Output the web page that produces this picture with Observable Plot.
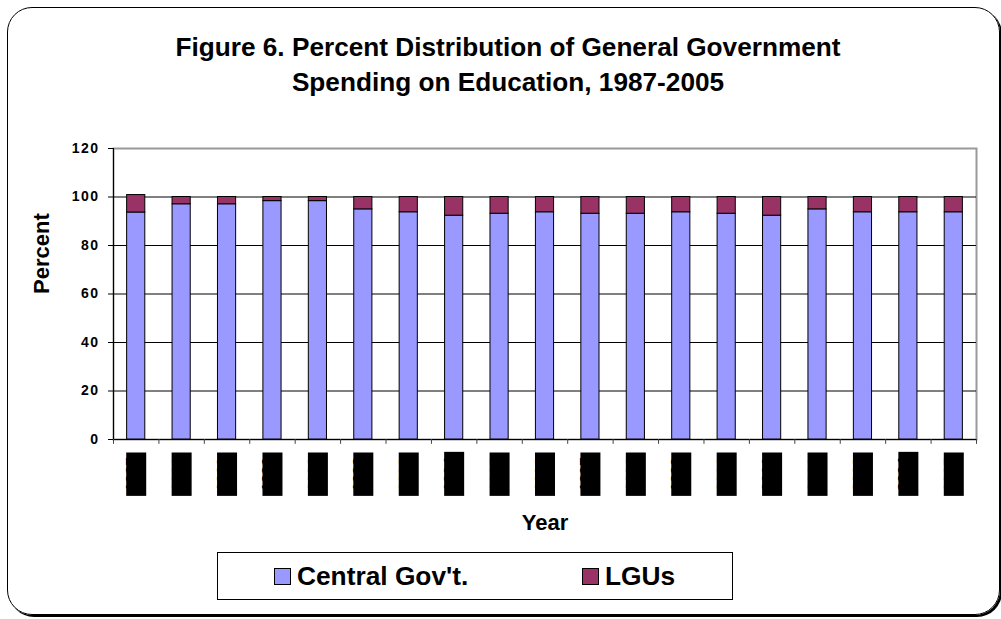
<!DOCTYPE html>
<html>
<head>
<meta charset="utf-8">
<script src="https://cdn.jsdelivr.net/npm/d3@7"></script>
<script src="https://cdn.jsdelivr.net/npm/@observablehq/plot@0.6"></script>
<style>
  html, body { margin: 0; padding: 0; background: #fff; }
  body { width: 1001px; height: 619px; overflow: hidden; position: relative; font-family: "Liberation Sans", Arial, sans-serif; }
  #border { position: absolute; left: 7px; top: 7px; width: 993px; height: 608px; border: 1.5px solid #000; border-radius: 25px; box-shadow: 2px 2px 0 #000; box-sizing: border-box; }
  #title { position: absolute; left: 8px; top: 30px; width: 1000px; text-align: center; font-weight: bold; font-size: 26.2px; line-height: 35px; color: #000; }
  #chart { position: absolute; left: 0; top: 120px; }
  #legend { position: absolute; left: 217px; top: 552px; width: 516px; height: 48px; border: 1px solid #000; box-sizing: border-box; background: #fff; }
  .item { position: absolute; top: 0; height: 46px; display: flex; align-items: center; font-weight: bold; font-size: 26.3px; color: #000; }
  .sw { width: 15px; height: 15px; border: 1px solid #000; margin-right: 6px; }
  g[aria-label="y-axis tick label"] { letter-spacing: 1.5px; }
</style>
</head>
<body>
<div id="border"></div>
<div id="title">Figure 6. Percent Distribution of General Government<br>Spending on Education, 1987-2005</div>
<div id="chart"></div>
<div id="legend"></div>
<script>
const years = ["1987","1988","1989","1990","1991","1992","1993","1994","1995","1996","1997","1998","1999","2000","2001","2002","2003","2004","2005"];
const centralGov = [93.6, 97.0, 97.0, 98.3, 98.3, 94.9, 93.7, 92.3, 93.1, 93.7, 93.1, 93.1, 93.7, 93.1, 92.3, 94.9, 93.7, 93.7, 93.7];
const lgus = [7.2, 3.0, 3.0, 1.7, 1.7, 5.1, 6.3, 7.7, 6.9, 6.3, 6.9, 6.9, 6.3, 6.9, 7.7, 5.1, 6.3, 6.3, 6.3];
const seriesNames = ["Central Gov't.", "LGUs"];
const seriesColors = ["#9999FF", "#993366"];
const yTicks = [0, 20, 40, 60, 80, 100, 120];

const data = years.flatMap((yr, i) => [
  {year: yr, series: seriesNames[0], value: centralGov[i]},
  {year: yr, series: seriesNames[1], value: lgus[i]}
]);

const halfStep = 863 / 19 / 2;

const chart = Plot.plot({
  width: 1001,
  height: 420,
  marginTop: 28,
  marginBottom: 101,
  marginLeft: 113,
  marginRight: 25,
  style: {fontFamily: "'Liberation Sans', Arial, sans-serif", background: "transparent", color: "#000"},
  x: {domain: years, paddingInner: 0.6, paddingOuter: 0.3, round: false, axis: null},
  y: {domain: [0, 120], axis: null},
  color: {domain: seriesNames, range: seriesColors},
  marks: [
    Plot.frame({stroke: "#999", strokeWidth: 2}),
    Plot.gridY(yTicks.filter(t => t > 0 && t < 120), {stroke: "#000", strokeOpacity: 1}),
    Plot.axisY(yTicks, {tickSize: 5, tickPadding: 9, fontSize: 14, fontWeight: "bold", label: null}),
    Plot.barY(data, Plot.stackY({x: "year", y: "value", fill: "series", stroke: "#000", strokeWidth: 1})),
    Plot.ruleY([0], {stroke: "#000"}),
    Plot.ruleX([years[0]], {x: d => d, dx: -halfStep, stroke: "#000"}),
    Plot.ruleX(years, {x: d => d, y1: 0, y2: -2, dx: -halfStep, stroke: "#444"}),
    Plot.ruleX([years[years.length - 1]], {x: d => d, y1: 0, y2: -2, dx: halfStep, stroke: "#444"}),
    Plot.text(years, {x: d => d, frameAnchor: "bottom", dy: 18, rotate: -90, textAnchor: "end", fontSize: 15, fontWeight: "bold", fill: "#000"}),
    Plot.text(["Year"], {frameAnchor: "bottom", dy: 90, fontSize: 22, fontWeight: "bold", fill: "#000"}),
    Plot.text(["Percent"], {frameAnchor: "left", dx: -72, rotate: -90, fontSize: 22, fontWeight: "bold", fill: "#000"})
  ]
});
document.getElementById("chart").appendChild(chart);

// year tick labels appear as solid black blocks in the reference: put a black box behind each label
Array.from(chart.querySelectorAll("text"))
  .filter(t => years.includes(t.textContent.trim()))
  .forEach(t => {
    const b = t.getBBox();
    const r = document.createElementNS("http://www.w3.org/2000/svg", "rect");
    const w = b.width + 10, h = 20;
    r.setAttribute("x", b.x + b.width / 2 - w / 2);
    r.setAttribute("y", -h / 2);
    r.setAttribute("width", w);
    r.setAttribute("height", h);
    r.setAttribute("fill", "#000");
    const tr = t.getAttribute("transform");
    if (tr) r.setAttribute("transform", tr);
    t.parentNode.insertBefore(r, t);
  });

const legend = document.getElementById("legend");
const itemLeft = [56, 364];
seriesNames.forEach((name, i) => {
  const item = document.createElement("div");
  item.className = "item";
  item.style.left = itemLeft[i] + "px";
  const sw = document.createElement("div");
  sw.className = "sw";
  sw.style.background = seriesColors[i];
  const label = document.createElement("span");
  label.textContent = name;
  item.appendChild(sw);
  item.appendChild(label);
  legend.appendChild(item);
});
</script>
</body>
</html>
